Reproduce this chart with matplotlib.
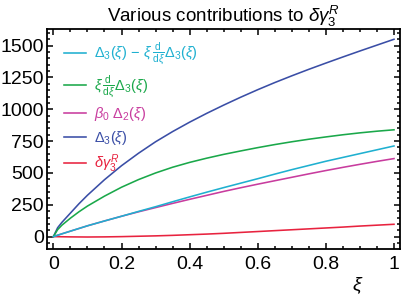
import matplotlib
matplotlib.use("Agg")
import matplotlib.pyplot as plt
from matplotlib.ticker import MultipleLocator, FuncFormatter

plt.rcParams['font.family'] = ['Liberation Sans', 'DejaVu Sans']
plt.rcParams['mathtext.fontset'] = 'custom'
plt.rcParams['mathtext.rm'] = 'Liberation Sans'
plt.rcParams['mathtext.it'] = 'Liberation Sans:italic'
plt.rcParams['mathtext.bf'] = 'Liberation Sans:bold'

xi = [0, 0.0125, 0.025, 0.05, 0.075, 0.1, 0.15, 0.2, 0.25, 0.3, 0.35, 0.4, 0.45, 0.5,
      0.55, 0.6, 0.65, 0.7, 0.75, 0.8, 0.85, 0.9, 0.95, 1.0]
delta3 = [0, 70, 112, 185, 258, 325, 447, 557, 655, 745, 825, 899, 968, 1033,
          1095, 1154, 1210, 1263, 1314, 1363, 1411, 1458, 1504, 1550]
xi_deriv = [0, 55, 90, 145, 195, 240, 318, 388, 448, 500, 545, 583, 616, 646,
            673, 699, 723, 745, 765, 783, 800, 815, 828, 839]
diff_term = [0, 11, 22, 43, 64, 85, 123, 160, 198, 235, 274, 312, 349, 385,
             420, 455, 491, 526, 559, 592, 622, 652, 682, 712]
beta0_delta2 = [0, 11, 22, 43, 64, 85, 123, 160, 195, 228, 261, 293, 324, 355,
                384, 412, 439, 466, 493, 519, 544, 568, 591, 613]
dgamma = [0, -0.5, -1, -2, -2.5, -3, -2, 0, 3, 6, 10, 15, 20, 26,
          33, 40, 47, 54, 61, 68, 75, 83, 90, 97]

c_cyan = '#1fb0d0'
c_green = '#1aa84a'
c_mag = '#c83c9e'
c_blue = '#3a4ea6'
c_red = '#e8233f'

series = [
    (diff_term, c_cyan, r'$\Delta_3(\xi)\,-\,\xi\,\frac{\mathrm{d}}{\mathrm{d}\xi}\Delta_3(\xi)$'),
    (xi_deriv, c_green, r'$\xi\,\frac{\mathrm{d}}{\mathrm{d}\xi}\Delta_3(\xi)$'),
    (beta0_delta2, c_mag, r'$\beta_0\ \Delta_2(\xi)$'),
    (delta3, c_blue, r'$\Delta_3(\xi)$'),
    (dgamma, c_red, r'$\delta\gamma_3^R$'),
]

fig = plt.figure(figsize=(4.05, 2.95), dpi=100)
ax = fig.add_axes([0.115, 0.156, 0.873, 0.745])

# draw order: red/blue/magenta under cyan
lines = {}
for vals, col, lab in reversed(series):
    lines[lab], = ax.plot(xi, vals, color=col, lw=1.15, label=lab)

ax.set_xlim(-0.02, 1.018)
ax.set_ylim(-97, 1629)
ax.xaxis.set_major_locator(MultipleLocator(0.2))
ax.xaxis.set_minor_locator(MultipleLocator(0.05))
ax.yaxis.set_major_locator(MultipleLocator(250))
ax.yaxis.set_minor_locator(MultipleLocator(50))
ax.xaxis.set_major_formatter(FuncFormatter(lambda v, p: ('%g' % round(v, 2))))
ax.tick_params(which='both', direction='in', top=True, right=True, labelsize=14, width=1.1)
ax.tick_params(which='major', length=4.5)
ax.tick_params(axis='y', pad=2)
ax.tick_params(axis='x', pad=5)
ax.tick_params(which='minor', length=2.3)
for s in ax.spines.values():
    s.set_linewidth(1.3)

ax.set_title(r'Various contributions to $\delta\gamma_3^R$', fontsize=13.5, pad=3)
ax.text(0.88, -0.168, r'$\xi$', transform=ax.transAxes, fontsize=14, ha='center', va='center')

leg = ax.legend([lines[s[2]] for s in series], [s[2] for s in series],
                loc='upper left', frameon=False, fontsize=10.5,
                handlelength=1.55, handletextpad=0.5, labelspacing=0.38,
                borderaxespad=0.3, bbox_to_anchor=(0.02, 0.995))
for txt, (vals, col, lab) in zip(leg.get_texts(), series):
    txt.set_color(col)

fig.savefig('out.png', dpi=100)
